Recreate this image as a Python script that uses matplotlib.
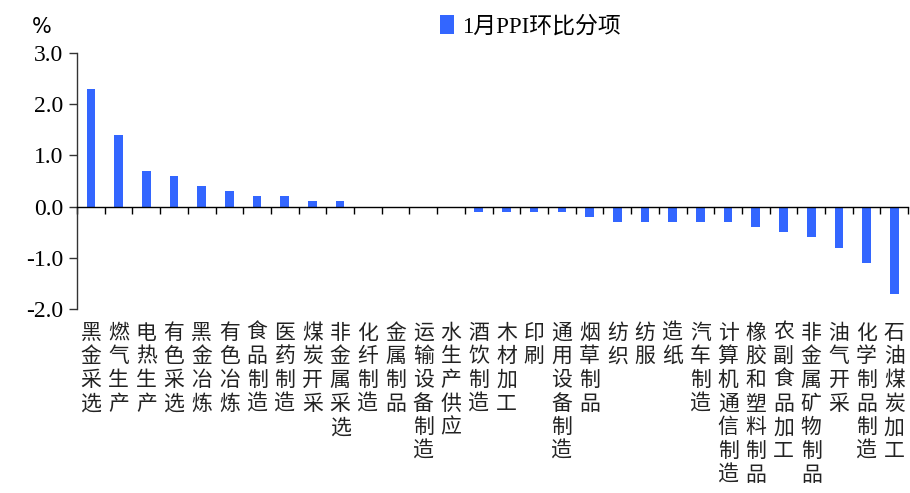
import numpy as np
import matplotlib
matplotlib.use("Agg")
import matplotlib.pyplot as plt

# 分项名称（竖排显示）
categories = [
    "黑金采选", "燃气生产", "电热生产", "有色采选", "黑金冶炼", "有色冶炼",
    "食品制造", "医药制造", "煤炭开采", "非金属采选", "化纤制造", "金属制品",
    "运输设备制造", "水生产供应", "酒饮制造", "木材加工", "印刷", "通用设备制造",
    "烟草制品", "纺织", "纺服", "造纸", "汽车制造", "计算机通信制造",
    "橡胶和塑料制品", "农副食品加工", "非金属矿物制品", "油气开采",
    "化学制品制造", "石油煤炭加工",
]
# 1月PPI环比，%
values = [
    2.3, 1.4, 0.7, 0.6, 0.4, 0.3,
    0.2, 0.2, 0.1, 0.1, 0.0, 0.0,
    0.0, 0.0, -0.1, -0.1, -0.1, -0.1,
    -0.2, -0.3, -0.3, -0.3, -0.3, -0.3,
    -0.4, -0.5, -0.6, -0.8,
    -1.1, -1.7,
]
yticks = [-2.0, -1.0, 0.0, 1.0, 2.0, 3.0]
series_name = "1月PPI环比分项"

num_font = "Liberation Serif"
cjk_font = "Noto Sans CJK SC"

fig = plt.figure(figsize=(9.1, 4.93), dpi=100)
ax = fig.add_axes([0.0846, 0.3732, 0.9134, 0.5193])

x = np.arange(len(categories))
ax.bar(x, values, width=0.31, color="#3366FF", label=series_name, zorder=2)

ax.set_xlim(-0.5, len(categories) - 0.5)
ax.set_ylim(-2.0, 3.0)

# 坐标轴：横轴放在0处，刻度在分类边界
for s in ["top", "right"]:
    ax.spines[s].set_visible(False)
ax.spines["bottom"].set_position(("data", 0))
ax.spines["bottom"].set_linewidth(1.0)
ax.spines["left"].set_linewidth(1.0)
ax.spines["left"].set_color("#333333")

ax.set_xticks(np.arange(-0.5, len(categories), 1.0))
ax.set_xticklabels([])
ax.tick_params(axis="x", direction="out", length=5, width=1.0)

ax.set_yticks(yticks)
ax.set_yticklabels([f"{v:.1f}" for v in yticks], fontfamily=num_font, fontsize=17)
ax.tick_params(axis="y", direction="out", length=6, width=1.0, pad=4, colors="#333333",
               labelcolor="black")

# 底部竖排分类标签
for i, name in enumerate(categories):
    ax.annotate("\n".join(name), xy=(i, 0), xycoords=("data", "axes fraction"),
                xytext=(0, -9), textcoords="offset points",
                ha="center", va="top", fontsize=15, linespacing=1.1,
                fontfamily=cjk_font, color="#222222")

fig.text(0.035, 0.965, "%", fontsize=15, fontfamily="DejaVu Sans", va="top", ha="left")

leg = ax.legend(loc="center left", bbox_to_anchor=(0.461, 0.947),
                bbox_transform=fig.transFigure, frameon=False,
                handlelength=0.6, handleheight=0.9, handletextpad=0.35,
                prop={"family": [num_font, cjk_font], "size": 16.5})

fig.savefig("out.png", dpi=100)
